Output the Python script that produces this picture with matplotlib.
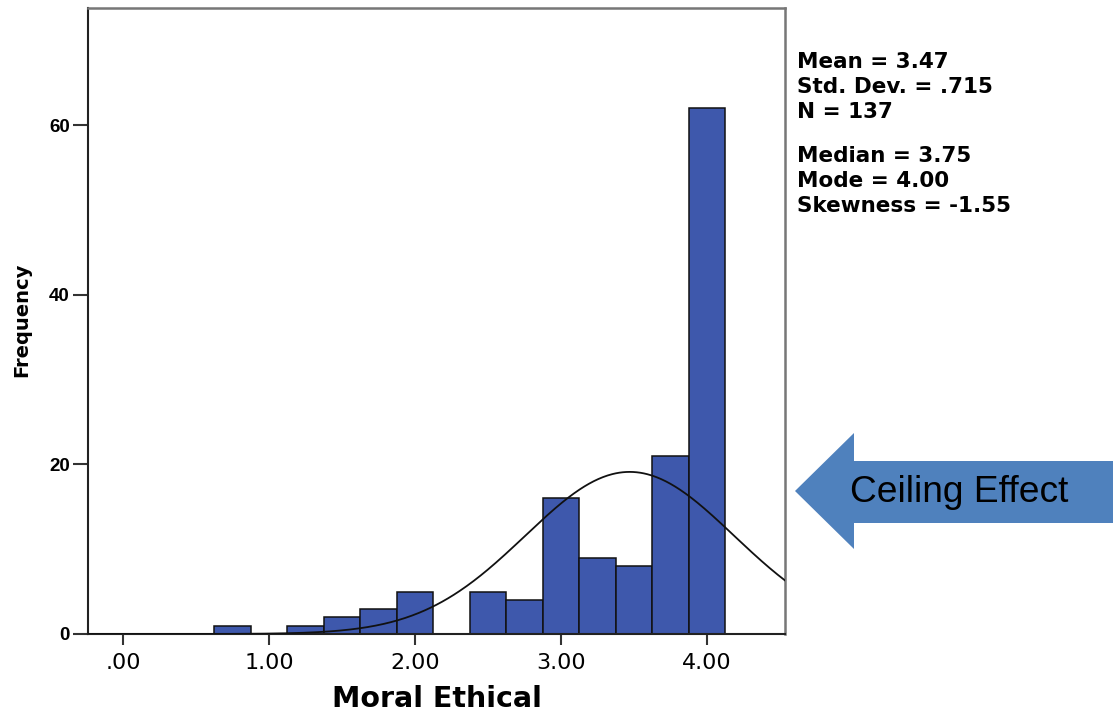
import numpy as np
import matplotlib
matplotlib.use("Agg")
import matplotlib.pyplot as plt
from matplotlib.patches import Polygon

# ---- data ----
bin_centers = [0.75, 1.25, 1.50, 1.75, 2.00, 2.50, 2.75, 3.00, 3.25, 3.50, 3.75, 4.00]
counts = [1, 1, 2, 3, 5, 5, 4, 16, 9, 8, 21, 62]
bin_width = 0.25
x_ticks = [0, 1, 2, 3, 4]
x_tick_labels = [".00", "1.00", "2.00", "3.00", "4.00"]
y_ticks = [0, 20, 40, 60]
mean, sd, n = 3.47, 0.715, 137
stats_block1 = ["Mean = 3.47", "Std. Dev. = .715", "N = 137"]
stats_block2 = ["Median = 3.75", "Mode = 4.00", "Skewness = -1.55"]

LIB = "Liberation Sans"
DV = "DejaVu Sans"
W, H = 1113, 717
fig = plt.figure(figsize=(W / 100, H / 100), dpi=100)
ax = fig.add_axes([88 / W, 1 - 634 / H, (785 - 88) / W, (634 - 8) / H])

ax.bar(bin_centers, counts, width=bin_width, color="#3E58AC",
       edgecolor="#111111", linewidth=1.1, zorder=2)

xs = np.linspace(-0.24, 4.54, 600)
curve = n * bin_width / (sd * np.sqrt(2 * np.pi)) * np.exp(-0.5 * ((xs - mean) / sd) ** 2)
ax.plot(xs, curve, color="#111111", linewidth=1.3, zorder=3)

ax.set_xlim(-0.24, 4.534)
ax.set_ylim(0, 73.8)
ax.set_xticks(x_ticks)
ax.set_xticklabels(x_tick_labels, fontsize=16, family=DV)
ax.set_yticks(y_ticks)
ax.set_yticklabels([str(v) for v in y_ticks], fontsize=13.5, family=LIB, fontweight="bold")
ax.tick_params(axis="x", length=8, width=1.5, pad=6, color="#333333")
ax.tick_params(axis="y", length=11, width=1.5, pad=2, color="#333333")

for s in ["left", "bottom"]:
    ax.spines[s].set_color("#222222")
    ax.spines[s].set_linewidth(1.5)
for s in ["top", "right"]:
    ax.spines[s].set_color("#777777")
    ax.spines[s].set_linewidth(1.8)

ax.set_xlabel("Moral Ethical", fontsize=20.5, family=DV, fontweight="bold", labelpad=8)
fig.text(22 / W, 1 - 320 / H, "Frequency", rotation=90, fontsize=14, family=DV,
         fontweight="bold", ha="center", va="center")

# stats text
y0 = 68
for i, t in enumerate(stats_block1):
    fig.text(797 / W, 1 - (y0 + 25 * i) / H, t, fontsize=15.5, family=DV,
             fontweight="bold", ha="left", va="baseline")
y1 = 162
for i, t in enumerate(stats_block2):
    fig.text(797 / W, 1 - (y1 + 25 * i) / H, t, fontsize=15.5, family=DV,
             fontweight="bold", ha="left", va="baseline")

# Ceiling Effect arrow
pts = [(795, 491), (854, 433), (854, 461), (1113, 461), (1113, 523),
       (854, 523), (854, 549)]
arrow = Polygon([(x / W, 1 - y / H) for x, y in pts], closed=True,
                transform=fig.transFigure, facecolor="#4F81BD", edgecolor="none")
fig.patches.append(arrow)
fig.text(850 / W, 1 - 492 / H, "Ceiling Effect", fontsize=26.7, family=LIB,
         ha="left", va="center", color="black")

fig.savefig("out.png", dpi=100)
